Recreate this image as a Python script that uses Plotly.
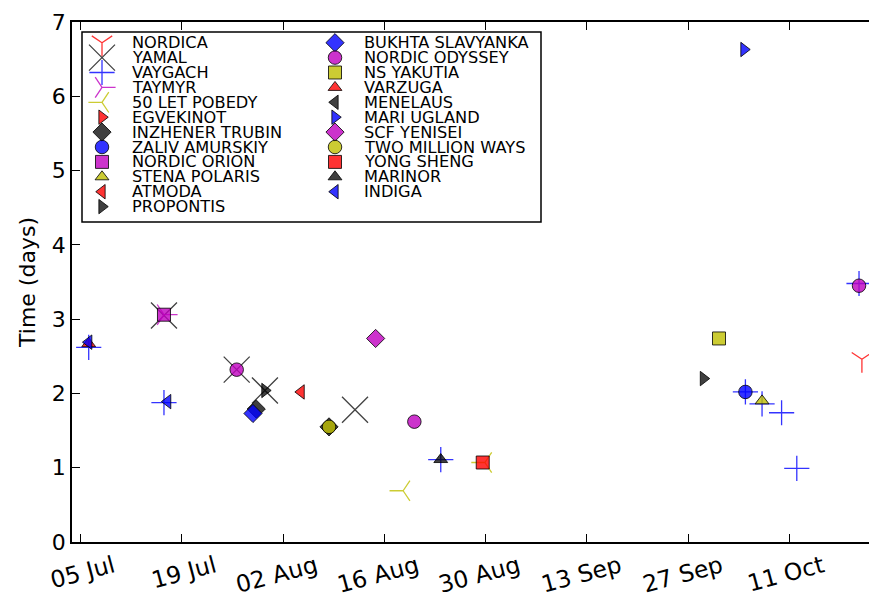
import plotly.graph_objects as go

# ---------------- data ----------------
ship_names = [
    "NORDICA", "YAMAL", "VAYGACH", "TAYMYR", "50 LET POBEDY", "EGVEKINOT",
    "INZHENER TRUBIN", "ZALIV AMURSKIY", "NORDIC ORION", "STENA POLARIS",
    "ATMODA", "PROPONTIS", "BUKHTA SLAVYANKA", "NORDIC ODYSSEY", "NS YAKUTIA",
    "VARZUGA", "MENELAUS", "MARI UGLAND", "SCF YENISEI", "TWO MILLION WAYS",
    "YONG SHENG", "MARINOR", "INDIGA",
]

ship_dates = [
    ["2014-10-21 00:00"],                                             # NORDICA
    ["2014-07-16 13:12", "2014-07-26 14:24", "2014-07-30 12:00",
     "2014-08-11 22:48"],                                             # YAMAL
    ["2014-07-06 03:36", "2014-07-16 13:12", "2014-08-23 19:12",
     "2014-10-04 21:36", "2014-10-07 04:48", "2014-10-09 21:36",
     "2014-10-12 00:00", "2014-10-20 14:24"],                         # VAYGACH
    ["2014-07-16 13:12"],                                             # TAYMYR
    ["2014-08-18 14:24", "2014-08-29 21:36"],                         # 50 LET POBEDY
    [],                                                               # EGVEKINOT
    ["2014-07-29 07:12", "2014-08-08 08:38"],                         # INZHENER TRUBIN
    ["2014-10-04 21:36"],                                             # ZALIV AMURSKIY
    ["2014-07-16 13:12"],                                             # NORDIC ORION
    ["2014-10-07 04:48"],                                             # STENA POLARIS
    ["2014-08-04 12:00"],                                             # ATMODA
    ["2014-07-30 12:00", "2014-09-29 02:24"],                         # PROPONTIS
    ["2014-07-28 20:24"],                                             # BUKHTA SLAVYANKA
    ["2014-07-26 14:24", "2014-08-20 03:36", "2014-10-20 14:24"],     # NORDIC ODYSSEY
    ["2014-10-01 06:00"],                                             # NS YAKUTIA
    ["2014-07-06 03:36"],                                             # VARZUGA
    [],                                                               # MENELAUS
    ["2014-10-04 16:48"],                                             # MARI UGLAND
    ["2014-08-14 19:12"],                                             # SCF YENISEI
    ["2014-08-08 08:38"],                                             # TWO MILLION WAYS
    ["2014-08-29 14:24"],                                             # YONG SHENG
    ["2014-08-23 19:12"],                                             # MARINOR
    ["2014-07-06 03:36", "2014-07-17 01:26"],                         # INDIGA
]

ship_days = [
    [2.46],
    [3.05, 2.32, 2.04, 1.78],
    [2.62, 1.875, 1.11, 2.02, 1.86, 1.74, 0.99, 3.48],
    [3.06],
    [0.69, 1.07],
    [],
    [1.79, 1.55],
    [2.02],
    [3.06],
    [1.90],
    [2.02],
    [2.04, 2.20],
    [1.73],
    [2.32, 1.62, 3.45],
    [2.74],
    [2.67],
    [],
    [6.63],
    [2.74],
    [1.55],
    [1.07],
    [1.11],
    [2.69, 1.89],
]

tick_dates = ["2014-07-05", "2014-07-19", "2014-08-02", "2014-08-16",
              "2014-08-30", "2014-09-13", "2014-09-27", "2014-10-11"]
tick_labels = ["05 Jul", "19 Jul", "02 Aug", "16 Aug",
               "30 Aug", "13 Sep", "27 Sep", "11 Oct"]

# ---------------- styles ----------------
color_cycle = ["rgba(255,0,0,0.8)", "rgba(0,0,0,0.75)", "rgba(0,0,255,0.8)",
               "rgba(191,0,191,0.8)", "rgba(191,191,0,0.8)"]
line_markers = ["y-down-open", "x-thin-open", "cross-thin-open",
                "y-right-open", "y-left-open"]
filled_cycle = ["triangle-right", "diamond", "circle", "square",
                "triangle-up", "triangle-left"]
symbol_size = {"y-down-open": 17, "x-thin-open": 26, "cross-thin-open": 18,
               "y-right-open": 17, "y-left-open": 17, "triangle-right": 12.5,
               "diamond": 14, "circle": 13.5, "square": 13,
               "triangle-up": 12, "triangle-left": 12.5}
EDGE = "rgba(0,0,0,0.8)"
FONT = "DejaVu Sans"

fig = go.Figure()


def marker_for(i):
    if i < len(line_markers):
        sym = line_markers[i]
        return dict(symbol=sym, size=symbol_size[sym],
                    color=color_cycle[i % 5],
                    line=dict(width=1.3, color=color_cycle[i % 5]))
    sym = filled_cycle[(i - len(line_markers)) % len(filled_cycle)]
    return dict(symbol=sym, size=symbol_size[sym], color=color_cycle[i % 5],
                line=dict(width=1, color=EDGE))


for i, name in enumerate(ship_names):
    fig.add_trace(go.Scatter(x=ship_dates[i], y=ship_days[i], mode="markers",
                             name=name, marker=marker_for(i),
                             showlegend=False, hoverinfo="x+y+name"))

# ---------------- hand-made two-column legend (pixel overlay axes) -------
plot_l, plot_r, plot_t, plot_b = 72, 869, 22, 542
rows = 12
row0, row_step = 42.7, 14.9
col_marker_x = [102, 335]
col_text_x = [130, 362]
box = dict(x0=82, x1=541, y0=32, y1=222)

annotations = []
for i, name in enumerate(ship_names):
    col, row = divmod(i, rows)
    mx = col_marker_x[col]
    my = row0 + row * row_step
    fig.add_trace(go.Scatter(x=[mx], y=[my], mode="markers", xaxis="x2",
                             yaxis="y2", marker=marker_for(i),
                             showlegend=False, hoverinfo="skip",
                             cliponaxis=False))
    annotations.append(dict(x=col_text_x[col], y=my, xref="x2", yref="y2",
                            text=name, showarrow=False, xanchor="left",
                            yanchor="middle",
                            font=dict(family=FONT, size=16.2, color="black")))

fig.add_shape(type="rect", xref="x2", yref="y2", x0=box["x0"], x1=box["x1"],
              y0=box["y0"], y1=box["y1"], line=dict(color="black", width=1.5),
              fillcolor="white", layer="below")

fig.update_layout(
    width=869, height=595,
    margin=dict(l=plot_l, r=0, t=plot_t, b=595 - plot_b, autoexpand=False),
    plot_bgcolor="white", paper_bgcolor="white",
    showlegend=False,
    font=dict(family=FONT, color="black"),
    annotations=annotations,
    xaxis=dict(type="date", range=["2014-07-03 20:10", "2014-10-21 23:30"],
               tickmode="array", tickvals=tick_dates, ticktext=tick_labels,
               tickangle=-15, ticks="inside", ticklen=8, tickwidth=1,
               tickcolor="black", showline=True, linecolor="black",
               linewidth=1.5, mirror="ticks", showgrid=False, zeroline=False,
               tickfont=dict(family=FONT, size=23.5, color="black"),
               ticklabelshift=33, automargin=False),
    yaxis=dict(range=[0, 7], tickmode="linear", tick0=0, dtick=1,
               ticks="inside", ticklen=8, tickwidth=1, tickcolor="black",
               showline=True, linecolor="black", linewidth=1.5, mirror=False,
               showgrid=False, zeroline=False, automargin=False,
               tickfont=dict(family=FONT, size=22, color="black"),
               title=dict(text="Time (days)",
                          font=dict(family=FONT, size=22, color="black"),
                          standoff=10)),
    xaxis2=dict(overlaying="x", range=[plot_l, plot_r], visible=False,
                anchor="y2", fixedrange=True),
    yaxis2=dict(overlaying="y", range=[plot_b, plot_t], visible=False,
                anchor="x2", fixedrange=True),
)

fig.write_html("out.html")
